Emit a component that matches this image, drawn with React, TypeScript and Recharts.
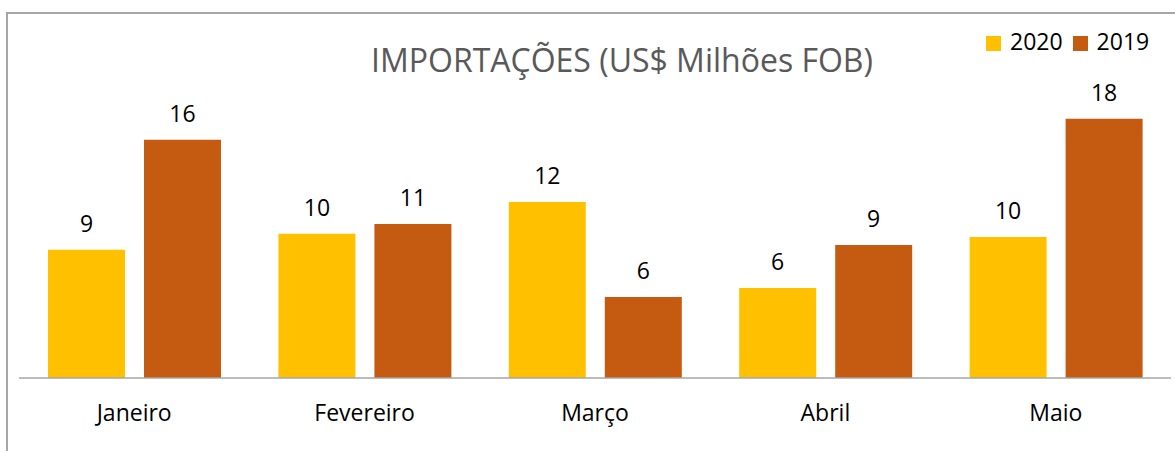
import { Bar, BarChart, LabelList, Legend, XAxis, YAxis } from "recharts"

const months = ["Janeiro", "Fevereiro", "Março", "Abril", "Maio"]
const seriesNames = ["2020", "2019"]
const imports2020 = [8.85, 9.95, 12.14, 6.21, 9.72]
const imports2019 = [16.43, 10.62, 5.59, 9.17, 17.88]

const font = "'Open Sans', sans-serif"

const rows = months.map((month, i) => ({
  month,
  "2020": imports2020[i],
  "2019": imports2019[i],
}))

export default function App() {
  return (
    <div
      style={{
        position: "absolute",
        left: 0,
        top: 0,
        width: 1175,
        height: 451,
        overflow: "hidden",
        background: "#fff",
        fontFamily: font,
      }}
    >
      {/* chart frame, only top and left edges are visible */}
      <div
        style={{
          position: "absolute",
          left: 6,
          top: 12,
          width: 1300,
          height: 600,
          borderTop: "2px solid #a6a6a6",
          borderLeft: "2px solid #a6a6a6",
        }}
      />
      <BarChart
        width={1175}
        height={451}
        data={rows}
        margin={{ top: 88, right: 4, left: 19, bottom: 33 }}
        barCategoryGap={29}
        barGap={19}
        style={{ fontFamily: font }}
      >
        <XAxis
          dataKey="month"
          tickLine={false}
          axisLine={{ stroke: "#a6a6a6", strokeWidth: 1.5 }}
          tick={{ fill: "#000", fontSize: 23 }}
          tickMargin={21}
          height={40}
        />
        <YAxis hide domain={[0, 20]} />
        <Legend
          layout="horizontal"
          verticalAlign="middle"
          align="center"
          iconType="square"
          iconSize={15}
          itemSorter={(item: any) => seriesNames.indexOf(String(item.value))}
          wrapperStyle={{ top: 25, left: 986, width: "auto", fontSize: 23 }}
          formatter={(value) => (
            <span style={{ color: "#000", marginLeft: 5 }}>{value}</span>
          )}
        />
        <Bar dataKey="2020" fill="#FFC000" isAnimationActive={false}>
          <LabelList
            dataKey="2020"
            position="top"
            offset={18}
            fill="#000"
            fontSize={23}
            formatter={(v: number) => Math.round(v)}
          />
        </Bar>
        <Bar dataKey="2019" fill="#C55A11" isAnimationActive={false}>
          <LabelList
            dataKey="2019"
            position="top"
            offset={18}
            fill="#000"
            fontSize={23}
            formatter={(v: number) => Math.round(v)}
          />
        </Bar>
      </BarChart>
      <svg
        width={1175}
        height={451}
        style={{ position: "absolute", left: 0, top: 0, pointerEvents: "none" }}
      >
        <text
          x={622}
          y={72}
          textAnchor="middle"
          fontSize={32}
          fill="#595959"
          fontFamily={font}
        >
          IMPORTAÇÕES (US$ Milhões FOB)
        </text>
      </svg>
    </div>
  )
}
